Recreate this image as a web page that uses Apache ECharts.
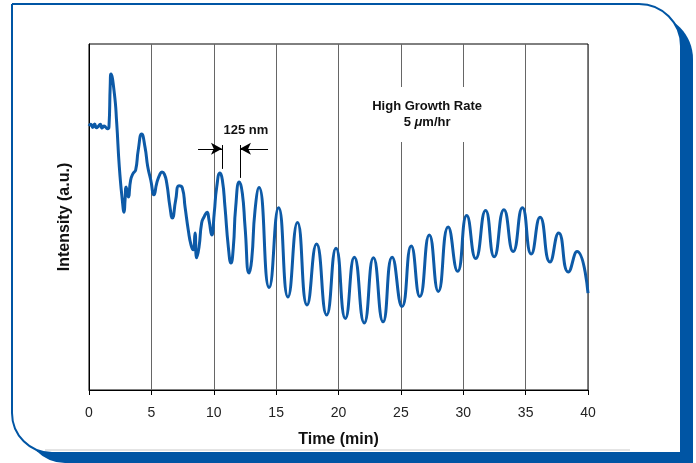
<!DOCTYPE html>
<html>
<head>
<meta charset="utf-8">
<script src="https://cdn.jsdelivr.net/npm/echarts@6/dist/echarts.min.js"></script>
<style>
  html, body { margin: 0; padding: 0; background: #fff; }
  #chart { width: 696px; height: 463px; }
</style>
</head>
<body>
<div id="chart"></div>
<script>
// reflectance trace (intensity in arbitrary units, 0-100)
const timeMin = [
  0.0, 0.15, 0.3, 0.45, 0.6, 0.75, 0.9, 1.05, 1.2, 1.35, 1.5, 1.6, 1.7, 1.76,
  2.03, 2.22, 2.43, 2.67, 2.81, 2.89, 2.98, 3.15, 3.34, 3.55, 3.74, 3.95, 4.22,
  4.49, 4.71, 4.95, 5.21, 5.43, 5.69, 5.85, 6.04, 6.23, 6.49, 6.68, 6.95, 7.21,
  7.48, 7.70, 7.96, 8.18, 8.36, 8.50, 8.63, 8.82, 9.03, 9.22, 9.46, 9.62, 9.84,
  10.04, 10.24, 10.50, 10.69, 10.90, 11.17, 11.38, 11.57, 11.76, 12.05, 12.29,
  12.51, 12.83, 13.04, 13.31, 13.63,
  14.44, 15.20, 15.95, 16.71, 17.48, 18.24, 19.05, 19.80, 20.55, 21.27, 22.06,
  22.80, 23.57, 24.30, 25.09, 25.83, 26.52, 27.28, 28.00, 28.79, 29.55, 30.28,
  31.00, 31.79, 32.48, 33.26, 34.00, 34.74, 35.45, 36.16, 36.95, 37.65, 38.42,
  39.12, 40.0
];
const intensity = [
  76.3, 76.8, 75.9, 76.9, 75.8, 76.2, 76.8, 75.7, 76.3, 75.9, 75.5, 76.0, 88.0, 91.3,
  85.8, 77.2, 64.5, 54.9, 51.4, 54.9, 58.7, 55.8, 60.7, 62.7, 63.6, 69.4, 74.0,
  70.2, 64.5, 60.7, 56.4, 59.8, 62.4, 63.0, 62.4, 59.8, 52.9, 49.7, 54.9, 59.0,
  58.4, 52.9, 46.2, 41.9, 40.5, 45.4, 38.2, 41.3, 48.3, 50.0, 51.4, 49.1, 44.8,
  51.2, 58.7, 62.7, 60.7, 52.9, 41.3, 36.7, 41.3, 52.9, 60.1, 56.9,
  47.1, 33.8, 37.6, 52.0, 58.5,
  29.6, 52.7, 26.9, 48.4, 24.6, 42.2, 21.7, 41.0, 20.7, 38.4, 19.4,
  38.2, 19.7, 38.4, 24.1, 41.6, 27.0, 44.8, 28.5, 47.1, 34.3, 50.4,
  38.0, 51.9, 38.5, 52.1, 40.0, 52.7, 39.3, 49.9, 37.0, 45.4, 34.1,
  40.0, 28.0
];

const chart = echarts.init(document.getElementById("chart"));
const font = "'Liberation Sans', Arial, sans-serif";
const blue = "#0055a4";

const option = {
  animation: false,
  backgroundColor: "#fff",
  graphic: [
    { type: "rect", z: -10, silent: true,
      shape: { x: 25, y: 14, width: 668, height: 449, r: [0, 45, 0, 40] },
      style: { fill: blue } },
    { type: "rect", z: -9, silent: true,
      shape: { x: 12, y: 4, width: 669, height: 449, r: [0, 42, 0, 40] },
      style: { fill: "#fff", stroke: blue, lineWidth: 2 } },
    { type: "line", z: -8, silent: true,
      shape: { x1: 45, y1: 450, x2: 630, y2: 450 },
      style: { stroke: "#c8c8c8", lineWidth: 1 } }
  ],
  grid: {
    left: 89, right: 108, top: 44, bottom: 73,
    show: true, borderColor: "#000", borderWidth: 1, backgroundColor: "transparent"
  },
  xAxis: {
    type: "value", min: 0, max: 40, interval: 5,
    name: "Time (min)", nameLocation: "middle", nameGap: 42,
    nameTextStyle: { fontFamily: font, fontWeight: "bold", fontSize: 16, color: "#111" },
    axisLine: { lineStyle: { color: "#000", width: 1 } },
    axisTick: { show: true, length: 5, lineStyle: { color: "#000" } },
    axisLabel: { fontFamily: font, fontSize: 14, color: "#222", margin: 16 },
    splitLine: { show: true, lineStyle: { color: "#666", width: 1 } }
  },
  yAxis: {
    type: "value", min: 0, max: 100,
    name: "Intensity (a.u.)", nameLocation: "middle", nameGap: 16,
    nameTextStyle: { fontFamily: font, fontWeight: "bold", fontSize: 16, color: "#111" },
    axisLine: { show: true, lineStyle: { color: "#000", width: 1 } },
    axisTick: { show: false }, axisLabel: { show: false },
    splitLine: { show: false }
  },
  series: [{
    type: "line",
    data: timeMin.map((t, i) => [t, intensity[i]]),
    showSymbol: false,
    smooth: 0.55,
    lineStyle: { color: "#0d5aa7", width: 3 },
    markArea: {
      silent: true,
      itemStyle: { color: "#fff", opacity: 1 },
      data: [[{ coord: [24.4, 87.6] }, { coord: [30.6, 71.7] }]]
    },
    markLine: {
      silent: true, symbol: ["none", "none"], symbolSize: [9, 11],
      label: { show: false },
      lineStyle: { color: "#000", width: 1, type: "solid" },
      data: [
        [{ coord: [8.74, 69.7] }, { coord: [10.66, 69.7], symbol: "arrow" }],
        [{ coord: [10.66, 70.8] }, { coord: [10.66, 63.9] }],
        [{ coord: [12.10, 70.8] }, { coord: [12.10, 61.3] }],
        [{ coord: [14.35, 69.7] }, { coord: [12.10, 69.7], symbol: "arrow" }]
      ]
    }
  }]
};
chart.setOption(option);

// text labels placed in data coordinates
const p1 = chart.convertToPixel({ gridIndex: 0 }, [12.58, 75.1]);
const p2 = chart.convertToPixel({ gridIndex: 0 }, [27.1, 82.1]);
const p3 = chart.convertToPixel({ gridIndex: 0 }, [27.1, 77.2]);
const txt = (p, text, rich) => ({
  type: "text", z: 50, silent: true, x: p[0], y: p[1],
  style: {
    text, fontFamily: font, fontWeight: "bold", fontSize: 13, fill: "#111",
    align: "center", verticalAlign: "middle", rich
  }
});
chart.setOption({
  graphic: option.graphic.concat([
    txt(p1, "125 nm"),
    txt(p2, "High Growth Rate"),
    txt(p3, "5 {mu|μ}m/hr", {
      mu: { fontFamily: font, fontWeight: "bold", fontStyle: "italic", fontSize: 13, fill: "#111" }
    })
  ])
});
</script>
</body>
</html>
